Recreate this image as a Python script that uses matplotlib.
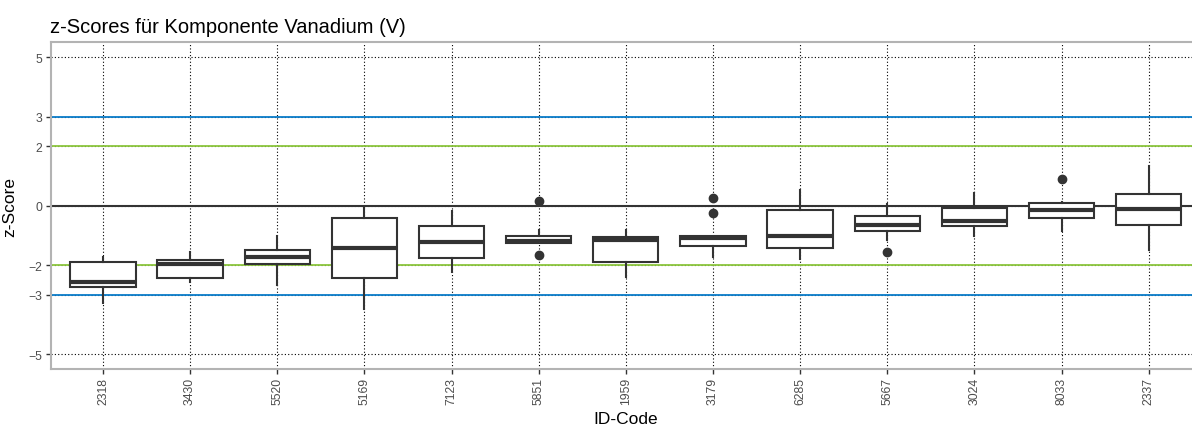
import matplotlib.pyplot as plt

plt.rcParams['font.family'] = ['Liberation Sans', 'DejaVu Sans']

# ID codes in plot order
codes = ["2318", "3430", "5520", "5169", "7123", "5851", "1959",
         "3179", "6285", "5667", "3024", "8033", "2337"]

# box statistics
whislo = [-3.27, -2.58, -2.67, -3.47, -2.24, -1.27, -2.41, -1.74, -1.79, -1.14, -1.01, -0.85, -1.49]
q1 = [-2.75, -2.44, -1.97, -2.42, -1.77, -1.27, -1.90, -1.37, -1.43, -0.86, -0.67, -0.40, -0.65]
med = [-2.58, -1.97, -1.74, -1.42, -1.23, -1.20, -1.15, -1.10, -1.03, -0.65, -0.50, -0.145, -0.12]
q3 = [-1.89, -1.83, -1.49, -0.41, -0.67, -1.02, -1.06, -1.01, -0.16, -0.36, -0.07, 0.08, 0.39]
whishi = [-1.74, -1.55, -1.01, -0.08, -0.19, -0.81, -0.81, -1.01, 0.52, 0.06, 0.43, 0.13, 1.35]
outliers = [[], [], [], [], [], [0.16, -1.67], [], [0.26, -0.26], [], [-1.57], [], [0.90], []]

stats = []
for i in range(len(codes)):
    stats.append({"label": codes[i], "whislo": whislo[i], "q1": q1[i], "med": med[i],
                  "q3": q3[i], "whishi": whishi[i], "fliers": outliers[i]})

fig = plt.figure(figsize=(11.92, 4.27), dpi=100)
# panel runs past the right edge, like the cropped original
ax = fig.add_axes([0.0425, 0.1335, 0.965, 0.765])

dark = "#333333"
ax.set_xlim(0.4, 13.6)
ax.set_ylim(-5.5, 5.5)
ax.set_yticks([5, 3, 2, 0, -2, -3, -5])
ax.grid(True, linestyle=(0, (1, 2)), color="black", linewidth=0.8, zorder=0)
ax.set_axisbelow(True)

# reference lines
for y in [3, -3]:
    ax.axhline(y, color="#0a7cc9", linewidth=1.3, zorder=1)
for y in [2, -2]:
    ax.axhline(y, color="#8cc63e", linewidth=1.3, zorder=1)
ax.axhline(0, color=dark, linewidth=1.5, zorder=1)

ax.bxp(stats, positions=range(1, len(codes) + 1), widths=0.75, patch_artist=True,
       showcaps=False,
       boxprops=dict(facecolor="white", edgecolor=dark, linewidth=1.5),
       whiskerprops=dict(color=dark, linewidth=1.5),
       medianprops=dict(color=dark, linewidth=3),
       flierprops=dict(marker="o", markerfacecolor=dark, markeredgecolor=dark, markersize=6),
       zorder=3)

ax.set_xticks(range(1, len(codes) + 1))
ax.set_xticklabels(codes, rotation=90)
ax.tick_params(colors="#333333", labelcolor="#4d4d4d", labelsize=8.8, length=3.6, width=1, pad=2.2)
for s in ax.spines.values():
    s.set_color("#b3b3b3")
    s.set_linewidth(1.5)

ax.set_xlabel("ID-Code", fontsize=12.5, color="black")
ax.set_ylabel("z-Score", fontsize=12.5, color="black")
ax.xaxis.set_label_coords(0.5, -0.128)
ax.yaxis.set_label_coords(-0.0293, 0.5)
fig.text(0.042, 0.9227, "z-Scores für Komponente Vanadium (V)", fontsize=14.5,
         ha="left", va="baseline")

fig.savefig("out.png", dpi=100)
